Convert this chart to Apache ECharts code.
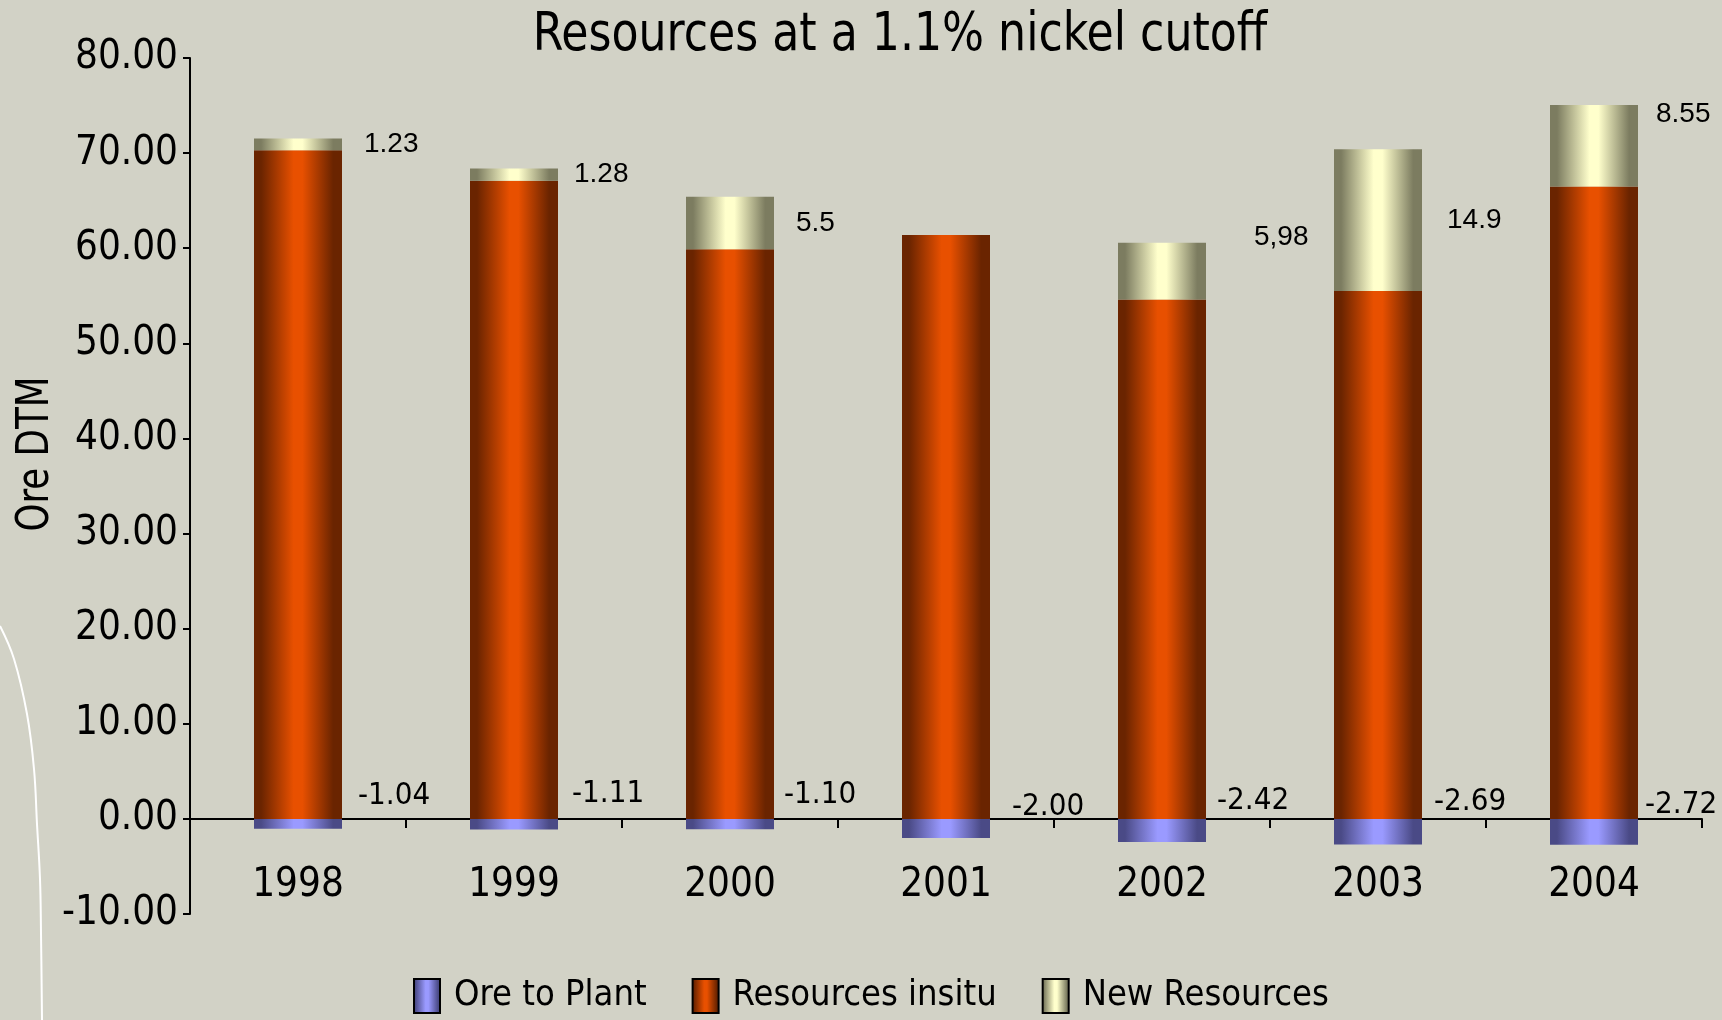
<!DOCTYPE html>
<html>
<head>
<meta charset="utf-8">
<title>Resources at a 1.1% nickel cutoff</title>
<script src="https://cdn.jsdelivr.net/npm/echarts@6/dist/echarts.min.js"></script>
<style>
  html, body { margin: 0; padding: 0; background: #d2d2c6; }
  #chart { width: 1722px; height: 1020px; }
</style>
</head>
<body>
<div id="chart"></div>
<script>
// Ore tonnage (DTM) per year at a 1.1% nickel cutoff
const categories = ['1998', '1999', '2000', '2001', '2002', '2003', '2004'];
const oreToPlant = [-1.04, -1.11, -1.10, -2.00, -2.42, -2.69, -2.72];
const resourcesInsitu = [70.3, 67.1, 59.9, 61.4, 54.6, 55.5, 66.5];
const newResources = [1.23, 1.28, 5.5, 0, 5.98, 14.9, 8.55];
const newResourceLabels = ['1.23', '1.28', '5.5', '', '5,98', '14.9', '8.55'];
const yMin = -10, yMax = 80, yStep = 10;

// condensed face for the axis, legend and title text
const NARROW = "'DejaVu Sans Condensed', 'Liberation Sans Narrow', sans-serif";
const REGULAR = "'Liberation Sans', Arial, sans-serif";

// horizontal shading that gives each bar a cylinder look
function cylinder(dark, light) {
  return new echarts.graphic.LinearGradient(0, 0, 1, 0, [
    { offset: 0, color: dark },
    { offset: 0.08, color: dark },
    { offset: 0.45, color: light },
    { offset: 0.55, color: light },
    { offset: 0.9, color: dark },
    { offset: 1, color: dark }
  ]);
}

// hand placement of the value labels beside each bar
const negLabelOffset = [[4, -28], [2, -30], [-2, -29], [10, -21], [-1, -29], [0, -30], [-5, -27]];
const newLabelOffset = [[0, 0], [-6, 0], [0, 0], [0, 0], [26, -34], [3, 0], [-4, -31]];

const chart = echarts.init(document.getElementById('chart'), null, { renderer: 'canvas' });

const option = {
  backgroundColor: '#d2d2c6',
  animation: false,
  graphic: [
    {
      type: 'text', x: 900, y: 36, scaleX: 0.91, z: 10,
      style: {
        text: 'Resources at a 1.1% nickel cutoff',
        fill: '#000', font: '54px ' + NARROW,
        textAlign: 'center', textVerticalAlign: 'middle'
      }
    },
    {
      type: 'text', x: 37, y: 454, rotation: Math.PI / 2, scaleX: 0.9, z: 10,
      style: {
        text: 'Ore DTM',
        fill: '#000', font: '44px ' + NARROW,
        textAlign: 'center', textVerticalAlign: 'middle'
      }
    },
    {
      type: 'polyline', z: 0, silent: true,
      shape: {
        points: [[0, 626], [14, 659], [27, 714], [34, 769], [37, 824], [40, 879], [41, 933], [42, 1020]],
        smooth: 0.4
      },
      style: { stroke: '#ffffff', lineWidth: 2, fill: null }
    }
  ],
  grid: { left: 190, right: 20, top: 58, bottom: 106, containLabel: false },
  legend: {
    left: 413, top: 978,
    itemWidth: 26, itemHeight: 34, itemGap: 45, padding: 0,
    icon: 'rect',
    itemStyle: { borderColor: '#000', borderWidth: 2 },
    textStyle: { color: '#000', fontSize: 36, fontFamily: NARROW, padding: [20, 0, 0, 9] },
    data: ['Ore to Plant', 'Resources insitu', 'New Resources']
  },
  xAxis: {
    type: 'category',
    data: categories,
    axisLine: { onZero: true, lineStyle: { color: '#000', width: 2 } },
    axisTick: { show: true, length: 9, lineStyle: { color: '#000', width: 2 } },
    axisLabel: { color: '#000', fontSize: 40, fontFamily: NARROW, margin: -48 },
    splitLine: { show: false }
  },
  yAxis: {
    type: 'value',
    min: yMin, max: yMax, interval: yStep,
    axisLine: { show: true, lineStyle: { color: '#000', width: 2 } },
    axisTick: { show: true, length: 7, lineStyle: { color: '#000', width: 2 } },
    axisLabel: {
      color: '#000', fontSize: 40, fontFamily: NARROW, margin: 12,
      formatter: v => v.toFixed(2)
    },
    splitLine: { show: false }
  },
  series: [
    {
      name: 'Ore to Plant', type: 'bar', stack: 'ore', barWidth: 88,
      itemStyle: { color: cylinder('#4a4a86', '#9a9aff') },
      label: {
        show: true, position: 'right', distance: 12,
        color: '#000', fontSize: 31, fontFamily: NARROW,
        formatter: p => p.value.toFixed(2)
      },
      data: oreToPlant.map((v, i) => ({ value: v, label: { offset: negLabelOffset[i] } }))
    },
    {
      name: 'Resources insitu', type: 'bar', stack: 'ore', barWidth: 88,
      itemStyle: { color: cylinder('#6a2400', '#e85000') },
      data: resourcesInsitu
    },
    {
      name: 'New Resources', type: 'bar', stack: 'ore', barWidth: 88,
      itemStyle: { color: cylinder('#7c7c60', '#ffffcc') },
      label: {
        show: true, position: 'right', distance: 22,
        color: '#000', fontSize: 28, fontFamily: REGULAR,
        formatter: p => newResourceLabels[p.dataIndex]
      },
      data: newResources.map((v, i) => ({ value: v, label: { offset: newLabelOffset[i] } }))
    }
  ]
};

chart.setOption(option);
</script>
</body>
</html>
